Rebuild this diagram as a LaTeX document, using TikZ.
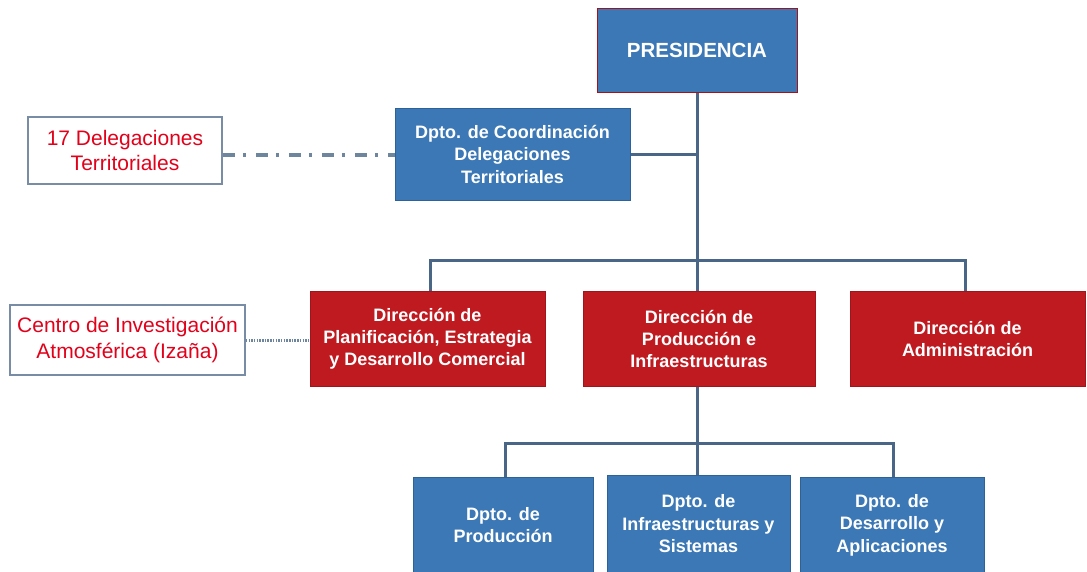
\documentclass[tikz,border=0pt]{standalone}
\usepackage{fontspec}
\setmainfont{Liberation Sans}
\definecolor{boxblue}{RGB}{59,120,181}
\definecolor{boxblueedge}{RGB}{45,98,152}
\definecolor{boxred}{RGB}{190,26,32}
\definecolor{boxrededge}{RGB}{160,20,26}
\definecolor{txtred}{RGB}{226,0,26}
\definecolor{linecol}{RGB}{74,102,134}
\definecolor{wboxedge}{RGB}{120,140,165}
\begin{document}
\begin{tikzpicture}[x=1pt,y=-1pt,
  bluebox/.style={fill=boxblue,draw=boxblueedge,line width=1pt,inner sep=0pt,align=center,text=white,
     font=\fontsize{18}{22.5}\selectfont\bfseries},
  redbox/.style={fill=boxred,draw=boxrededge,line width=1pt,inner sep=0pt,align=center,text=white,
     font=\fontsize{18}{22}\selectfont\bfseries},
  whitebox/.style={fill=white,draw=wboxedge,line width=1.6pt,inner sep=0pt,align=center,text=txtred,
     font=\fontsize{21}{25.5}\selectfont},
  conn/.style={draw=linecol,line width=3pt},
  dashdotline/.style={draw=linecol!80,line width=3.5pt,dash pattern=on 12pt off 8pt on 3pt off 10pt},
  dotline/.style={draw=linecol!80,line width=3pt,dash pattern=on 1.5pt off 1.2pt}]
\useasboundingbox (0,0) rectangle (1087,571);
\fill[white] (0,0) rectangle (1087,571);

% nodes
\node[bluebox,draw=boxrededge,minimum width=200pt,minimum height=84pt,font=\fontsize{20.5}{24}\selectfont\bfseries] (pres) at (697,50) {PRESIDENCIA};
\node[bluebox,minimum width=235pt,minimum height=92pt] (coord) at (512.5,154) {Dpto. de Coordinación\\Delegaciones\\Territoriales};
\node[whitebox,minimum width=194pt,minimum height=67pt] (deleg) at (125,150.5) {17 Delegaciones\\Territoriales};

\node[redbox,minimum width=235pt,minimum height=95pt] (dplan) at (427.5,338.5) {Dirección de\\Planificación, Estrategia\\y Desarrollo Comercial};
\node[redbox,minimum width=232pt,minimum height=95pt] (dprod) at (699,338.5) {Dirección de\\Producción e\\Infraestructuras};
\node[redbox,minimum width=235pt,minimum height=95pt] (dadm) at (967.5,338.5) {Dirección de\\Administración};
\node[whitebox,minimum width=235pt,minimum height=70pt] (centro) at (127.5,340) {Centro de Investigación\\Atmosférica (Izaña)};

\node[bluebox,minimum width=180pt,minimum height=96pt] (bprod) at (503,525) {Dpto. de\\Producción};
\node[bluebox,minimum width=183pt,minimum height=98pt] (binf) at (698.5,524) {Dpto. de\\Infraestructuras y\\Sistemas};
\node[bluebox,minimum width=184pt,minimum height=96pt] (bdes) at (892,525) {Dpto. de\\Desarrollo y\\Aplicaciones};

% helper coordinates
\coordinate (bar1) at (697,260);
\coordinate (bar2) at (697,443);
\coordinate (dd) at (0,155);

% connectors
\draw[conn] (pres.south -| bar1) -- (bar1);
\draw[conn] (coord.east) -- (coord.east -| bar1);
\draw[conn] (dplan.north -| 430,0) |- (bar1) -| (dadm.north -| 965,0);
\draw[conn] (bar1) -- (bar1 |- dprod.north);
\draw[conn] (dprod.south -| bar2) -- (bar2);
\draw[conn] (bprod.north -| 505,0) |- (bar2) -| (bdes.north -| 893,0);
\draw[conn] (bar2) -- (bar2 |- binf.north);
\draw[dashdotline] (deleg.east |- dd) -- (coord.west |- dd);
\draw[dotline] (centro.east) -- (dplan.west |- centro.east);
\end{tikzpicture}
\end{document}
